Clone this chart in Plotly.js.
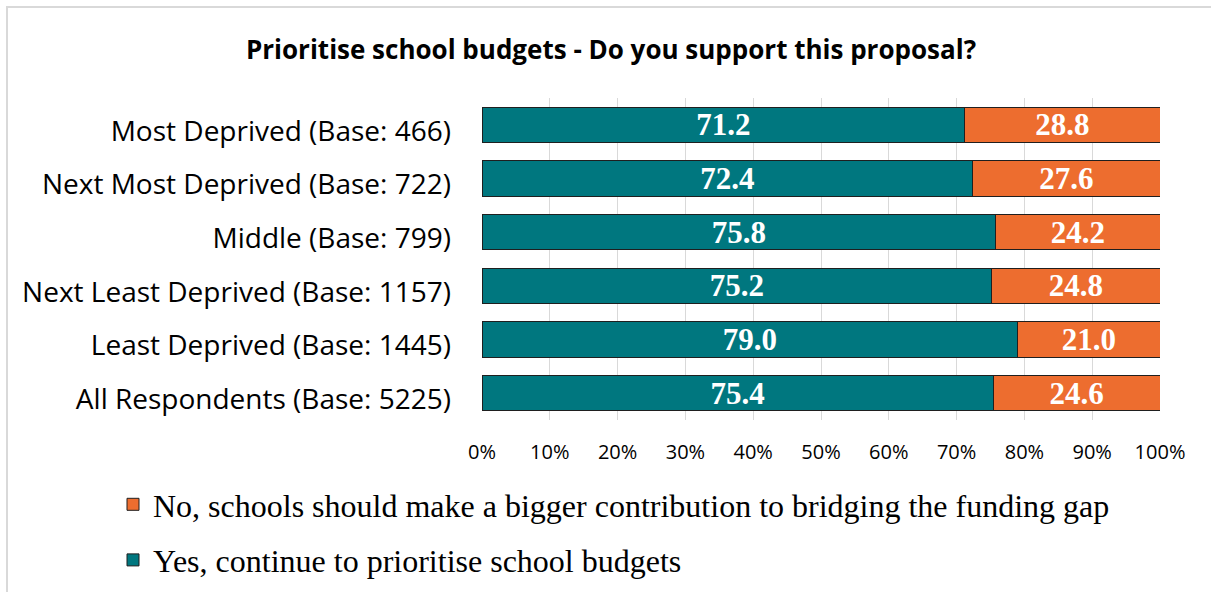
<!DOCTYPE html>
<html>
<head>
<meta charset="utf-8">
<script src="https://cdn.plot.ly/plotly-3.0.1.min.js"></script>
<style>
  html, body { margin: 0; padding: 0; background: #fff; }
  #chart { width: 1211px; height: 592px; }
</style>
</head>
<body>
<div id="chart"></div>
<script>
const categories = [
  "Most Deprived (Base: 466)",
  "Next Most Deprived (Base: 722)",
  "Middle (Base: 799)",
  "Next Least Deprived (Base: 1157)",
  "Least Deprived (Base: 1445)",
  "All Respondents (Base: 5225)"
];
const yesValues = [71.2, 72.4, 75.8, 75.2, 79.0, 75.4];
const noValues = [28.8, 27.6, 24.2, 24.8, 21.0, 24.6];
const yesName = "Yes, continue to prioritise school budgets";
const noName = "No, schools should make a bigger contribution to bridging the funding gap";
const tickVals = [0, 10, 20, 30, 40, 50, 60, 70, 80, 90, 100];
const tickText = ["0%", "10%", "20%", "30%", "40%", "50%", "60%", "70%", "80%", "90%", "100%"];

const W = 1211, H = 592;
const L = 482, R = 1160, T = 98, B = 420;
const fx = p => p / W;
const fy = p => 1 - p / H;

const labelFont = { family: "Liberation Serif, Times New Roman, serif", size: 31, color: "#ffffff", weight: "bold" };

const traces = [
  {
    type: "bar", orientation: "h", name: yesName, legendgroup: "yes", legendrank: 2,
    y: categories, x: yesValues,
    marker: { color: "#00777F", line: { color: "#1f1f1f", width: 1 } },
    text: yesValues.map(v => v.toFixed(1)), textposition: "inside",
    insidetextanchor: "middle", textangle: 0, textfont: labelFont,
    constraintext: "none", hoverinfo: "skip"
  },
  {
    type: "bar", orientation: "h", name: noName, legendgroup: "no", legendrank: 1,
    y: categories, x: noValues,
    marker: { color: "#ED6D2F", line: { color: "#1f1f1f", width: 1 } },
    text: noValues.map(v => v.toFixed(1)), textposition: "inside",
    insidetextanchor: "middle", textangle: 0, textfont: labelFont,
    constraintext: "none", hoverinfo: "skip"
  }
];

const layout = {
  width: W, height: H,
  margin: { l: 0, r: 0, t: 0, b: 0, pad: 0 },
  paper_bgcolor: "#ffffff", plot_bgcolor: "#ffffff",
  barmode: "stack", bargap: 0.34,
  showlegend: true,
  title: {
    text: "<b>Prioritise school budgets - Do you support this proposal?</b>",
    font: { family: "Open Sans, sans-serif", size: 26, color: "#000000" },
    x: 611 / W, xanchor: "center", y: 1 - 50 / H, yanchor: "middle"
  },
  xaxis: {
    domain: [fx(L), fx(R)],
    range: [0, 100], tickvals: tickVals, ticktext: tickText,
    showgrid: true, gridcolor: "#d9d9d9", gridwidth: 1,
    zeroline: false, showline: false, ticks: "",
    tickfont: { family: "Open Sans, sans-serif", size: 20, color: "#000000" },
    ticklabelstandoff: 18, fixedrange: true, automargin: false
  },
  yaxis: {
    domain: [fy(B), fy(T)],
    type: "category", autorange: "reversed",
    showgrid: false, zeroline: false, showline: false, ticks: "",
    ticklabelstandoff: 30, ticklabelshift: -6,
    tickfont: { family: "Open Sans, sans-serif", size: 28, color: "#000000" },
    fixedrange: true, automargin: false
  },
  legend: {
    orientation: "v", traceorder: "grouped", tracegroupgap: 11,
    x: fx(113), xanchor: "left", y: fy(477), yanchor: "top",
    font: { family: "Liberation Serif, Times New Roman, serif", size: 32, color: "#000000" },
    bgcolor: "rgba(0,0,0,0)", borderwidth: 0
  },
  shapes: [
    { type: "rect", xref: "paper", yref: "paper",
      x0: fx(7), x1: fx(1240), y0: fy(640), y1: fy(7),
      line: { color: "#d9d9d9", width: 2 }, fillcolor: "rgba(0,0,0,0)", layer: "below" }
  ]
};

Plotly.newPlot("chart", traces, layout, { displayModeBar: false, staticPlot: true });
</script>
</body>
</html>
